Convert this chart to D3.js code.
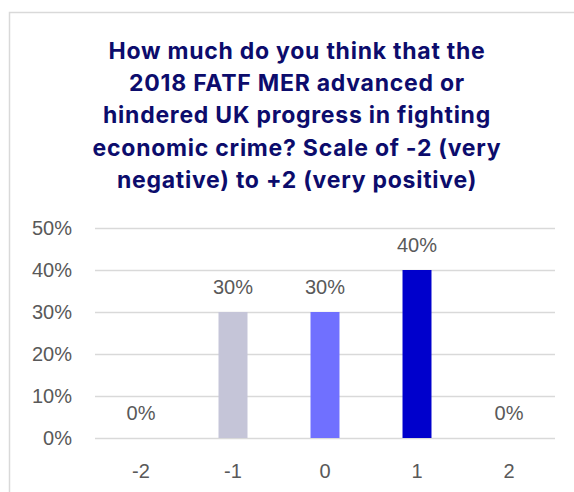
<!DOCTYPE html>
<html>
<head>
<meta charset="utf-8">
<script src="https://cdn.jsdelivr.net/npm/d3@7"></script>
<style>
body { margin: 0; background: white; }
.axis text { font-family: "Liberation Sans", Arial, sans-serif; font-size: 20px; fill: #595959; }
</style>
</head>
<body>
<script>
const categories = ["-2", "-1", "0", "1", "2"];
const values = [0, 0.30, 0.30, 0.40, 0];
const barColors = ["#c5c5d8", "#c5c5d8", "#7070ff", "#0000cc", "#0000cc"];
const yTicks = [0, 0.1, 0.2, 0.3, 0.4, 0.5];
const titleLines = [
  "How much do you think that the",
  "2018 FATF MER advanced or",
  "hindered UK progress in fighting",
  "economic crime? Scale of -2 (very",
  "negative) to +2 (very positive)"
];

const W = 574, H = 492;
const svg = d3.select("body").append("svg")
  .attr("width", W).attr("height", H);

// chart frame, runs off the right and bottom edges
svg.append("rect")
  .attr("x", 9.5).attr("y", 12.5)
  .attr("width", 700).attr("height", 600)
  .attr("fill", "white")
  .attr("stroke", "#d9d9d9")
  .attr("stroke-width", 1.5);

svg.append("g")
  .selectAll("text")
  .data(titleLines)
  .join("text")
  .attr("x", 297)
  .attr("y", (d, i) => 58.5 + i * 32.4)
  .attr("text-anchor", "middle")
  .attr("font-family", "Inter, 'Open Sans', sans-serif")
  .attr("font-weight", 700)
  .attr("font-size", "23px")
  .attr("letter-spacing", "0.75px")
  .attr("fill", "#0c0c6c")
  .text(d => d);

const margin = {left: 95, right: 19, top: 228, bottom: 54};
const x = d3.scaleBand().domain(categories)
  .range([margin.left, W - margin.right])
  .paddingInner(0.685).paddingOuter(0.3425);
const y = d3.scaleLinear().domain([0, 0.5]).range([H - margin.bottom, margin.top]);

// gridlines + y labels
const yAxis = d3.axisLeft(y).tickValues(yTicks).tickFormat(d3.format(".0%"))
  .tickSize(-(W - margin.right - margin.left)).tickPadding(23);
svg.append("g").attr("class", "axis")
  .attr("transform", `translate(${margin.left},0)`)
  .call(yAxis)
  .call(g => g.select(".domain").remove())
  .call(g => g.selectAll(".tick line").attr("stroke", "#d9d9d9").attr("stroke-width", 1.5));

const xAxis = d3.axisBottom(x).tickSize(0).tickPadding(26);
svg.append("g").attr("class", "axis")
  .attr("transform", `translate(0,${H - margin.bottom})`)
  .call(xAxis)
  .call(g => g.select(".domain").remove());

svg.append("g").selectAll("rect")
  .data(values)
  .join("rect")
  .attr("x", (d, i) => x(categories[i]))
  .attr("width", x.bandwidth())
  .attr("y", d => y(d))
  .attr("height", d => y(0) - y(d))
  .attr("fill", (d, i) => barColors[i]);

svg.append("g").selectAll("text")
  .data(values)
  .join("text")
  .attr("x", (d, i) => x(categories[i]) + x.bandwidth() / 2)
  .attr("y", d => y(d) - 18)
  .attr("text-anchor", "middle")
  .attr("font-family", "'Liberation Sans', Arial, sans-serif")
  .attr("font-size", "20px")
  .attr("fill", "#595959")
  .text(d => d3.format(".0%")(d));
</script>
</body>
</html>
